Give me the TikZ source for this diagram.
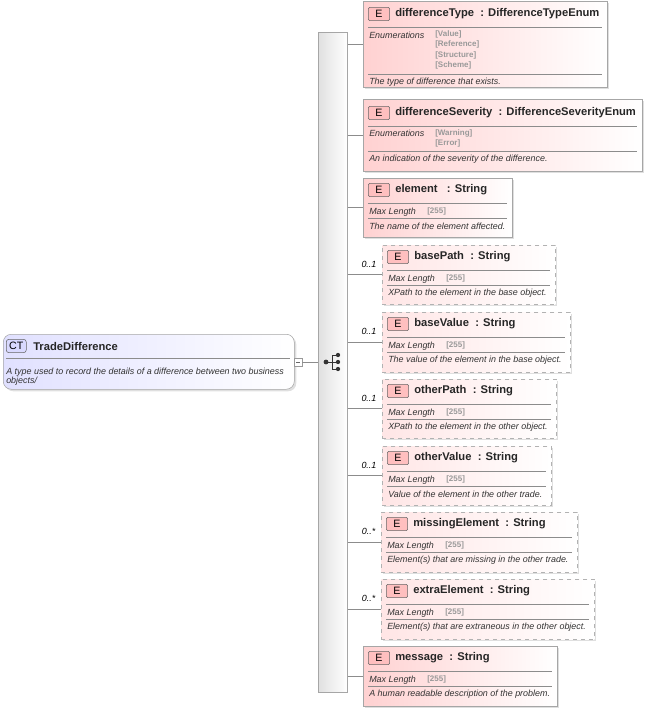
\documentclass[tikz,border=0pt]{standalone}
\usepackage{fontspec}
\setmainfont{Liberation Sans}
\usetikzlibrary{positioning,shadows}

\tikzset{
  ebox/.style={draw=black!35, left color=red!18, right color=white, shading angle=90,
    drop shadow={opacity=0.25, shadow xshift=1.5pt, shadow yshift=-1.5pt}, anchor=north west, inner sep=0pt},
  optbox/.style={ebox, dashed, draw=black!30, left color=red!10},
  ttl/.style={font=\bfseries\fontsize{8.4}{10}\selectfont, text=black!85, anchor=west, inner sep=0pt},
  lbl/.style={font=\itshape\fontsize{6.7}{8}\selectfont, text=black!80, anchor=west, inner sep=0pt},
  val/.style={font=\bfseries\fontsize{6}{7}\selectfont, text=black!40, anchor=west, inner sep=0pt},
  tag/.style={draw=black!60, fill=red!25, rounded corners=1pt, minimum width=16pt, minimum height=10pt,
    font=\fontsize{8}{9}\selectfont, anchor=west, inner sep=0pt},
  sep/.style={black!45, line width=0.4pt},
  conn/.style={black!45, line width=0.5pt},
  card/.style={font=\itshape\fontsize{6.7}{8}\selectfont, anchor=east, inner sep=0pt}
}

% string element box: name, style, x1, y1, x2, y2, title, description
\newcommand\strbox[8]{
  \node[#2, minimum width=(#5-#3)*0.75pt, minimum height=(#6-#4)*0.75pt] (#1) at (#3,#4) {};
  \node[tag] (#1t) at (#3+5,#4+12) {E};
  \node[ttl] at (#3+32,#4+12) {#7};
  \draw[sep] (#3+5,#4+25) -- (#5-5,#4+25);
  \node[lbl] at (#3+6,#4+34) {Max Length};
  \node[val] at (#3+64,#4+33.5) {[255]};
  \draw[sep] (#3+5,#4+40) -- (#5-5,#4+40);
  \node[lbl] at (#3+6,#4+48) {#8};
}

\begin{document}
\begin{tikzpicture}[x=0.75pt, y=-0.75pt]
  \useasboundingbox (0,0) rectangle (647,712);

  % complex type
  \node[draw=black!35, rounded corners=6pt, left color=blue!12, right color=white, shading angle=90,
    drop shadow={opacity=0.25, shadow xshift=1.5pt, shadow yshift=-1.5pt},
    minimum width=291*0.75pt, minimum height=55*0.75pt, anchor=north west, inner sep=0pt] (ct) at (3,334) {};
  \node[tag, fill=blue!15, rounded corners=2pt, minimum width=15pt] at (6,346) {CT};
  \node[ttl] at (33,346) {TradeDifference};
  \draw[sep] (6,358) -- (290,358);
  \node[lbl] at (6,372) {A type used to record the details of a difference between two business};
  \node[lbl] at (6,381) {objects/};
  \node[draw=black!40, fill=white, minimum size=6pt, inner sep=0pt] (mn) at (298,362) {};
  \draw[black!60] (296,362) -- (300,362);

  % sequence spine
  \node[draw=black!35, left color=black!12, right color=white, shading angle=90, anchor=north west,
    minimum width=29*0.75pt, minimum height=660*0.75pt, inner sep=0pt] (spine) at (318,32) {};
  \draw[conn] (mn.east) -- (spine.west |- mn.east);
  % sequence icon
  \fill[black!80] (326,362) circle (1.8pt);
  \draw[black!80, line width=0.7pt] (326,362) -- (332,362) (332,355) -- (332,369)
    (332,355) -- (337,355) (332,362) -- (337,362) (332,369) -- (337,369);
  \foreach \yy in {355,362,369} \fill[black!80] (338,\yy) circle (1.6pt);

  % differenceType
  \node[ebox, minimum width=244*0.75pt, minimum height=86*0.75pt] (dt) at (363,1) {};
  \node[tag] at (368,14) {E};
  \node[ttl] at (395,14) {differenceType \ : DifferenceTypeEnum};
  \draw[sep] (368,27) -- (602,27);
  \node[lbl] at (369,35) {Enumerations};
  \node[val] at (435,34) {[Value]};
  \node[val] at (435,44.5) {[Reference]};
  \node[val] at (435,55) {[Structure]};
  \node[val] at (435,65.5) {[Scheme]};
  \draw[sep] (368,74) -- (602,74);
  \node[lbl] at (369,82) {The type of difference that exists.};

  % differenceSeverity
  \node[ebox, minimum width=279*0.75pt, minimum height=72*0.75pt] (ds) at (363,99) {};
  \node[tag] at (368,113) {E};
  \node[ttl] at (395,113) {differenceSeverity \ : DifferenceSeverityEnum};
  \draw[sep] (368,126) -- (637,126);
  \node[lbl] at (369,133) {Enumerations};
  \node[val] at (435,133) {[Warning]};
  \node[val] at (435,143.5) {[Error]};
  \draw[sep] (368,151) -- (637,151);
  \node[lbl] at (369,159) {An indication of the severity of the difference.};

  \strbox{el}{ebox}{363}{178}{512}{237}{element \ \ : String}{The name of the element affected.}
  \strbox{bp}{optbox}{382}{245}{555}{304}{basePath \ : String}{XPath to the element in the base object.}
  \strbox{bv}{optbox}{382}{312}{570}{372}{baseValue \ : String}{The value of the element in the base object.}
  \strbox{op}{optbox}{382}{379}{556}{438}{otherPath \ : String}{XPath to the element in the other object.}
  \strbox{ov}{optbox}{382}{446}{551}{505}{otherValue \ : String}{Value of the element in the other trade.}
  \strbox{me}{optbox}{381}{512}{577}{572}{missingElement \ : String}{Element(s) that are missing in the other trade.}
  \strbox{ee}{optbox}{381}{579}{594}{639}{extraElement \ : String}{Element(s) that are extraneous in the other object.}
  \strbox{ms}{ebox}{363}{646}{557}{706}{message \ : String}{A human readable description of the problem.}

  % connectors
  \foreach \b in {dt,ds,el,bp,bv,op,ov,me,ee,ms}
    \draw[conn] (spine.east |- \b.west) -- (\b.west);
  \foreach \b in {bp,bv,op,ov}
    \node[card] at ([xshift=-4pt, yshift=8pt] \b.west) {0..1};
  \foreach \b in {me,ee}
    \node[card] at ([xshift=-4pt, yshift=8pt] \b.west) {0..*};
\end{tikzpicture}
\end{document}
